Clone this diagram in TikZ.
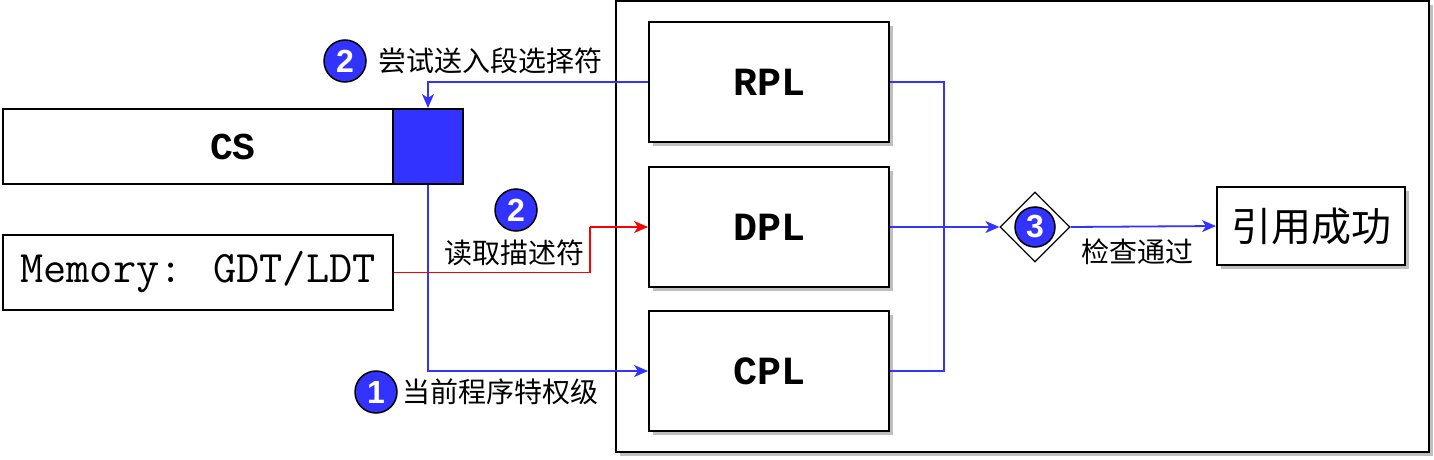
\documentclass[tikz,border=0pt]{standalone}
\usepackage{fontspec}
\setsansfont{Liberation Sans}
\newfontfamily\cjk{Noto Sans CJK SC}
\newfontfamily\boldmono{Liberation Mono}
\usetikzlibrary{arrows.meta,shapes.geometric,shadows}
\definecolor{selblue}{HTML}{3333FF}
\definecolor{rdline}{HTML}{FF0000}
\tikzset{
  plbox/.style={draw,line width=2pt,fill=white,minimum width=240pt,minimum height=120pt,
    font=\boldmono\bfseries\fontsize{40}{40}\selectfont,
    drop shadow={shadow xshift=4pt,shadow yshift=-4pt,fill=black!25,opacity=1}},
  regbox/.style={draw,line width=2pt,fill=white,minimum height=75pt},
  num/.style={circle,draw=black,line width=1.5pt,fill=selblue,minimum size=42pt,inner sep=0pt,
    text=white,font=\sffamily\bfseries\fontsize{32}{32}\selectfont},
  cn/.style={font=\cjk\fontsize{28}{28}\selectfont,inner sep=0pt},
  bl/.style={draw=selblue,line width=1.8pt},
  rd/.style={draw=rdline,line width=1.8pt},
  tip/.style={-{Stealth[length=14pt,width=12pt,inset=4pt]}}
}
\begin{document}
\begin{tikzpicture}[x=1pt,y=-1pt]
\useasboundingbox (0,0) rectangle (1434,460);
\node[draw,line width=2pt,fill=white,minimum width=813pt,minimum height=451pt,
  drop shadow={shadow xshift=4pt,shadow yshift=-4pt,fill=black!25,opacity=1}] (frame) at (1022.5,226.5) {};
\node[regbox,minimum width=460pt,font=\boldmono\bfseries\fontsize{38}{38}\selectfont] (cs) at (233,146.5) {CS};
\node[draw,line width=2pt,fill=selblue,minimum width=70pt,minimum height=75pt] (sel) at (428,146.5) {};
\node[regbox,minimum width=390pt,font=\ttfamily\fontsize{45}{45}\selectfont] (mem) at (198,272.5) {Memory: GDT/LDT};
\node[plbox] (rpl) at (769,82) {RPL};
\node[plbox] (dpl) at (769,227) {DPL};
\node[plbox] (cpl) at (769,371) {CPL};
\node[diamond,draw,line width=1.2pt,fill=white,minimum width=70pt,minimum height=70pt,inner sep=0pt] (chk) at (1035,227) {};
\node[num,minimum size=40pt] (n3) at (1035,227) {3};
\node[draw,line width=2pt,fill=white,minimum width=188pt,minimum height=78pt,
  font=\cjk\fontsize{40}{40}\selectfont,
  drop shadow={shadow xshift=4pt,shadow yshift=-4pt,fill=black!25,opacity=1}] (ok) at (1311,226) {引用成功};
\coordinate (join) at (944,227);
\coordinate (rbend) at (590,227);
\draw[bl,tip] (rpl.west) -| (sel.north);
\draw[bl,tip] (sel.south) |- (cpl.west);
\draw[rd] (mem.east) -| (rbend);
\draw[rd,tip] (rbend) -- (dpl.west);
\draw[bl] (rpl.east) -| (join);
\draw[bl] (cpl.east) -| (join);
\draw[bl,tip] (dpl.east) -- (chk.west);
\draw[bl,tip] (chk.east) -- (ok.west);
\node[num] (n2a) at (345,61) {2};
\node[cn,anchor=west] (t2a) at (378,61) {尝试送入段选择符};
\node[num] (n2b) at (516,210) {2};
\node[cn] (t2b) at (514,253) {读取描述符};
\node[num] (n1) at (376,392) {1};
\node[cn,anchor=west] (t1) at (402,392) {当前程序特权级};
\node[cn] (t3) at (1137,252) {检查通过};
\end{tikzpicture}
\end{document}
